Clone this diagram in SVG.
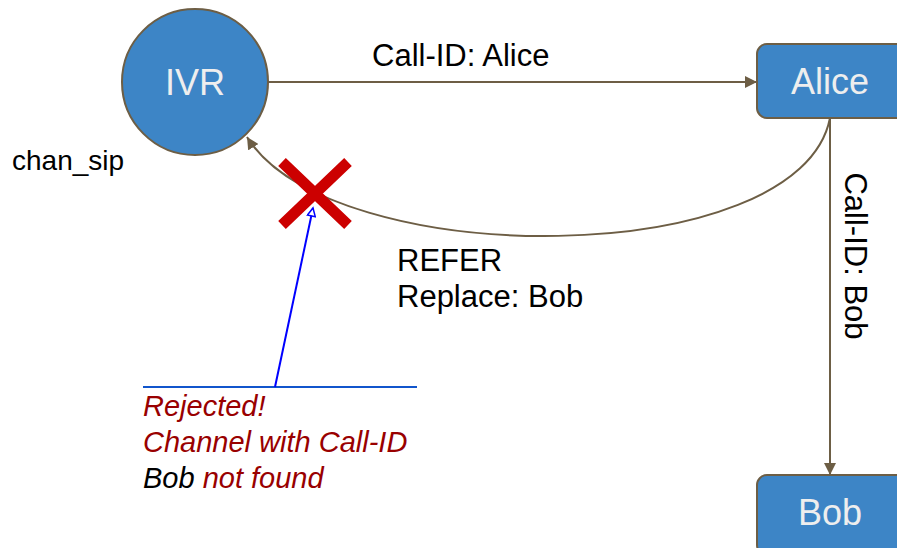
<svg xmlns="http://www.w3.org/2000/svg" width="897" height="548" viewBox="0 0 897 548">
<style>
.node{fill:#3d85c6;stroke:#6d5e45;stroke-width:2}
.nlabel{font-family:"Liberation Sans",Arial,sans-serif;font-size:36px;fill:#eeeeee;text-anchor:middle}
.edge{fill:none;stroke:#6d5e45;stroke-width:2}
.lbl{font-family:"Liberation Sans",Arial,sans-serif;font-size:31px;fill:#000}
.note{font-family:"Liberation Sans",Arial,sans-serif;font-size:29px;font-style:italic;fill:#990000}
</style>
<defs>
<marker id="ah" viewBox="0 0 10 10" refX="10" refY="5" markerWidth="6" markerHeight="6" orient="auto" markerUnits="strokeWidth">
<path d="M0,0 L10,5 L0,10 z" fill="#6d5e45"/>
</marker>
<marker id="bh" viewBox="0 0 10 10" refX="9" refY="5" markerWidth="6" markerHeight="5" orient="auto" markerUnits="strokeWidth">
<path d="M1,1 L9,5 L1,9 z" fill="#fff" stroke="#0000ff" stroke-width="1.5"/>
</marker>
</defs>
<rect width="897" height="548" fill="#fff"/>
<g id="connectors">
<path class="edge" d="M268,82 L757,82" marker-end="url(#ah)"/>
<path class="edge" d="M830,118 L830,475" marker-end="url(#ah)"/>
<path class="edge" d="M830,118 C800,272 330,272 247,137" marker-end="url(#ah)"/>
</g>
<g id="IVR">
<circle class="node" cx="195" cy="82" r="73"/>
<text class="nlabel" x="195" y="95">IVR</text>
</g>
<g id="Alice">
<rect class="node" x="757" y="44" width="150" height="74" rx="10"/>
<text class="nlabel" x="830" y="94">Alice</text>
</g>
<g id="Bob">
<rect class="node" x="757" y="475" width="150" height="80" rx="10"/>
<text class="nlabel" x="830" y="525">Bob</text>
</g>
<g id="labels">
<text class="lbl" x="372" y="66">Call-ID: Alice</text>
<text class="lbl" x="12" y="170" style="font-size:28px">chan_sip</text>
<text class="lbl" x="397" y="271">REFER</text>
<text class="lbl" x="397" y="307">Replace: Bob</text>
<text class="lbl" text-anchor="middle" transform="translate(845,256) rotate(90)">Call-ID: Bob</text>
</g>
<g id="reject-mark">
<path d="M282,162 L348,225 M348,162 L282,225" stroke="#cc0000" stroke-width="11" fill="none"/>
</g>
<g id="note">
<line x1="143" y1="387" x2="417" y2="387" stroke="#1155cc" stroke-width="2"/>
<line x1="275" y1="387" x2="313" y2="208" stroke="#0000ff" stroke-width="2" marker-end="url(#bh)"/>
<text class="note" x="143" y="416">Rejected!</text>
<text class="note" x="143" y="452">Channel with Call-ID</text>
<text class="note" x="143" y="488"><tspan fill="#000">Bob</tspan> not found</text>
</g>
</svg>
